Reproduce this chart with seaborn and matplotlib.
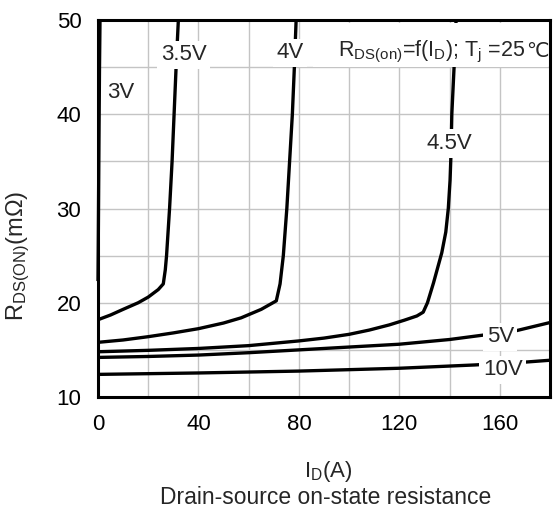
import matplotlib
matplotlib.use("Agg")
import matplotlib.pyplot as plt
from matplotlib.patches import Rectangle
import pandas as pd
import seaborn as sns

# Drain current (A) and on-state resistance (mOhm) for each gate voltage
id_3v = [0.0, 0.1, 0.2, 0.4, 0.6, 0.8]
r_3v = [22.3, 26.0, 30.0, 38.0, 45.0, 50.0]

id_3v5 = [0, 5, 10, 16, 20, 24, 26, 26.8, 27.3, 28.5, 29.5, 30.3, 31.1, 32.0]
r_3v5 = [18.2, 18.7, 19.3, 20.0, 20.6, 21.4, 22.0, 23.5, 25, 30, 35, 40, 45, 50]

id_4v = [0, 10, 20, 30, 40, 50, 57, 65, 71, 72.5, 73.8, 75.2, 76.3, 77.4, 78.2, 78.9]
r_4v = [15.8, 16.05, 16.4, 16.8, 17.25, 17.85, 18.4, 19.3, 20.2, 22, 25, 30, 35, 40, 45, 50]

id_4v5 = [0, 20, 40, 60, 80, 90, 100, 108, 116, 122, 127, 129.5, 131.2, 133.6,
          136.9, 138.5, 139.5, 140.2, 140.6, 140.9, 141.8, 142.6]
r_4v5 = [14.8, 14.95, 15.15, 15.45, 15.95, 16.25, 16.65, 17.1, 17.65, 18.15, 18.6,
         19.0, 20, 22.1, 25.3, 27.5, 30, 33, 36, 40, 45, 50]

id_5v = [0, 20, 40, 60, 80, 100, 120, 140, 150, 166, 180]
r_5v = [14.2, 14.3, 14.45, 14.7, 15.0, 15.3, 15.6, 16.1, 16.45, 17.0, 17.9]

id_10v = [0, 40, 80, 120, 150, 170, 180]
r_10v = [12.4, 12.55, 12.75, 13.05, 13.4, 13.7, 13.9]

gate_labels = ["3V", "3.5V", "4V", "4.5V", "5V", "10V"]
x_ticks = [0, 40, 80, 120, 160]
y_ticks = [10, 20, 30, 40, 50]

series = {
    "3V": (id_3v, r_3v),
    "3.5V": (id_3v5, r_3v5),
    "4V": (id_4v, r_4v),
    "4.5V": (id_4v5, r_4v5),
    "5V": (id_5v, r_5v),
    "10V": (id_10v, r_10v),
}
df = pd.concat(
    [pd.DataFrame({"ID": xs, "R": ys, "VGS": name}) for name, (xs, ys) in series.items()],
    ignore_index=True,
)

sns.set_style("white")
plt.rcParams["font.family"] = ["Liberation Sans", "DejaVu Sans"]
plt.rcParams["mathtext.fontset"] = "custom"
plt.rcParams["mathtext.rm"] = "Liberation Sans"
plt.rcParams["mathtext.it"] = "Liberation Sans"
plt.rcParams["mathtext.default"] = "rm"

FS = 16

fig = plt.figure(figsize=(5.56, 5.17), dpi=100)
ax = fig.add_axes([98 / 556, 1 - 397 / 517, 452 / 556, 377 / 517])

for name in gate_labels:
    sub = df[df["VGS"] == name]
    sns.lineplot(data=sub, x="ID", y="R", ax=ax, color="black", lw=2.4,
                 sort=False, estimator=None, legend=False, zorder=3)
for line in ax.get_lines():
    line.set_solid_capstyle("butt")
    line.set_solid_joinstyle("round")
    line.set_clip_on(False)

ax.set_xlim(0, 180)
ax.set_ylim(10, 50)
ax.set_xticks(x_ticks)
ax.set_yticks(y_ticks)
ax.set_xticks(list(range(20, 180, 40)), minor=True)
ax.set_yticks(list(range(15, 50, 10)), minor=True)
ax.grid(True, which="both", color="#c4c4c4", lw=1.0, zorder=0)
ax.set_axisbelow(True)
ax.tick_params(which="both", length=0, labelsize=FS, pad=12, colors="black")
for s in ax.spines.values():
    s.set_color("black")
    s.set_linewidth(2.2)
    s.set_zorder(5)

ax.set_xlabel(r"I$_{\mathrm{D}}$(A)", fontsize=FS)
ax.xaxis.set_label_coords(0.51, -0.165)
ax.set_ylabel(r"R$_{\mathrm{DS(ON)}}$(m$\Omega$)", fontsize=FS + 1)
ax.yaxis.set_label_coords(-0.145, 0.375)

fig.text(0.585, 1 - 498 / 517, "Drain-source on-state resistance",
         fontsize=FS + 0.5, ha="center", va="center")

box = dict(facecolor="white", edgecolor="none", pad=2.5)
label_pos = {
    "3V": (9.0, 42.3),
    "3.5V": (34.2, 46.3),
    "4V": (76.5, 46.5),
    "4.5V": (139.8, 36.9),
    "5V": (160.2, 16.4),
    "10V": (161.2, 12.9),
}
for name, (lx, ly) in label_pos.items():
    ax.text(lx, ly, name, fontsize=FS, ha="center", va="center", bbox=box, zorder=6)

# white panel behind the test-condition note
ax.add_patch(Rectangle((0.475, 0.876), 0.52, 0.115, transform=ax.transAxes,
                       facecolor="white", edgecolor="none", zorder=4))
cond = ax.text(95.6, 46.1, r"R$_{\mathrm{DS(on)}}$=f(I$_{\mathrm{D}}$); T$_{\mathrm{j}}$ =25",
               fontsize=FS - 0.5, ha="left", va="baseline", zorder=6)
fig.canvas.draw()
x_end = ax.transData.inverted().transform((cond.get_window_extent().x1, 0))[0]
ax.text(x_end + 0.4, 46.1, "℃", fontsize=FS - 1.5, ha="left", va="baseline",
        family=["DejaVu Sans"], zorder=6)

fig.savefig("out.png", dpi=100)
